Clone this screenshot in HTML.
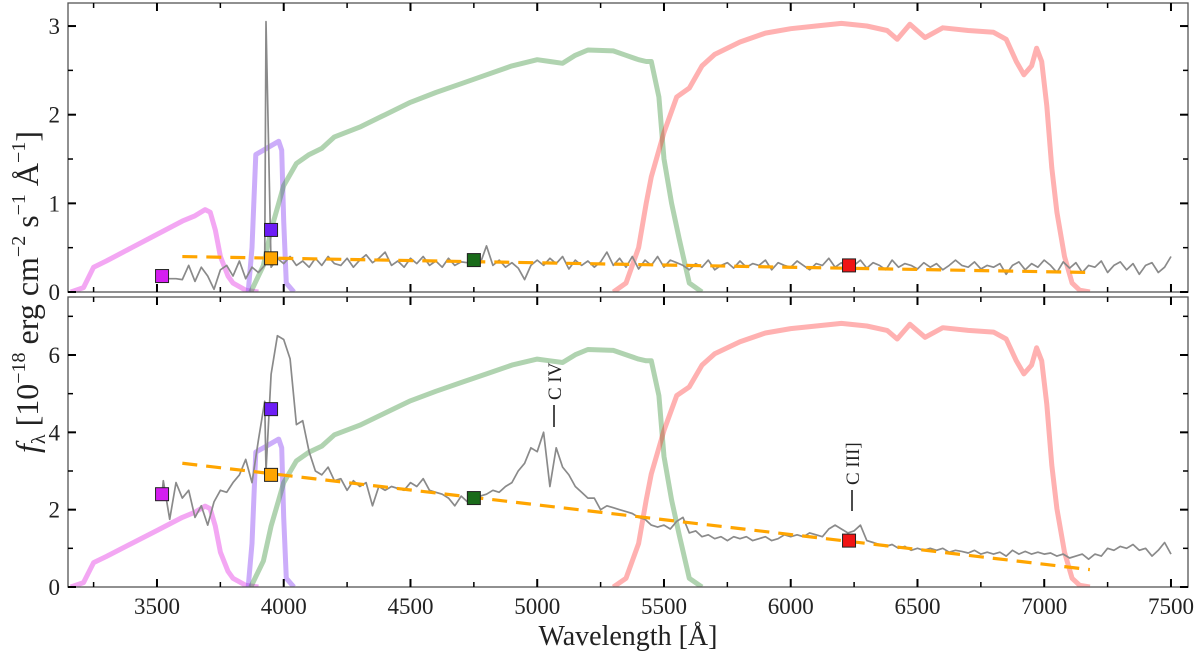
<!DOCTYPE html>
<html><head><meta charset="utf-8"><style>
html,body{margin:0;padding:0;background:#fff;}
body{position:relative;width:1200px;height:658px;overflow:hidden;}
svg{display:block;font-family:"Liberation Serif",serif;}
</style></head><body>
<svg id="chart" width="1200" height="658" viewBox="0 0 1200 658" xmlns="http://www.w3.org/2000/svg"></svg>
<script>
// ---------- data ----------
const specWave = [3525,3550,3575,3600,3625,3650,3675,3700,3725,3750,3775,3800,3825,3850,3875,3900,3925,3930,3950,3975,
4000,4025,4050,4075,4100,4125,4150,4175,4200,4225,4250,4275,4300,4325,4350,4375,4400,4425,4450,4475,
4500,4525,4550,4575,4600,4625,4650,4675,4700,4725,4750,4775,4800,4825,4850,4875,4900,4925,4950,4975,
5000,5025,5050,5075,5100,5125,5150,5175,5200,5225,5250,5275,5300,5325,5350,5375,5400,5425,5450,5475,
5500,5525,5550,5575,5600,5625,5650,5675,5700,5725,5750,5775,5800,5825,5850,5875,5900,5925,5950,5975,
6000,6025,6050,6075,6100,6125,6150,6175,6200,6225,6250,6275,6300,6325,6350,6375,6400,6425,6450,6475,
6500,6525,6550,6575,6600,6625,6650,6675,6700,6725,6750,6775,6800,6825,6850,6875,6900,6925,6950,6975,
7000,7025,7050,7075,7100,7125,7150,7175,7200,7225,7250,7275,7300,7325,7350,7375,7400,7425,7450,7475,7500];
const topFlux = [.15,.15,.15,.14,.30,.12,.28,.18,.03,.25,.30,.18,.35,.15,.28,.22,.30,3.05,.28,.38,
.32,.40,.30,.35,.28,.38,.30,.40,.32,.30,.38,.28,.36,.42,.33,.38,.45,.30,.35,.28,
.38,.32,.40,.30,.35,.28,.38,.30,.34,.33,.40,.32,.52,.30,.36,.28,.33,.27,.14,.30,
.36,.30,.38,.32,.40,.26,.36,.30,.35,.28,.34,.45,.30,.38,.28,.40,.26,.36,.30,.40,
.28,.36,.33,.30,.25,.32,.28,.36,.25,.30,.33,.27,.35,.28,.32,.30,.36,.25,.33,.30,
.28,.35,.30,.25,.32,.30,.38,.28,.33,.25,.30,.36,.27,.33,.30,.25,.36,.28,.32,.30,
.26,.33,.28,.32,.25,.30,.36,.30,.28,.34,.26,.30,.28,.32,.20,.30,.34,.25,.32,.28,
.36,.30,.22,.34,.27,.33,.22,.30,.28,.35,.22,.30,.34,.25,.32,.20,.30,.33,.22,.28,.40];
const botFlux = [2.75,1.75,2.7,2.3,2.5,1.8,2.1,1.6,2.2,2.5,2.45,2.7,2.9,3.3,2.7,3.8,4.8,3.0,5.5,6.5,
6.4,5.9,4.2,4.3,3.5,3.0,2.9,3.1,2.75,2.8,2.5,2.75,2.6,2.7,2.1,2.6,2.5,2.6,2.55,2.5,
2.7,2.6,2.8,2.5,2.45,2.4,2.3,2.1,2.35,2.2,2.3,2.35,2.4,2.5,2.45,2.6,2.7,3.0,3.2,3.6,
3.5,4.0,2.6,3.6,3.1,2.9,2.6,2.45,2.3,2.3,2.0,2.1,2.05,2.0,1.95,1.9,1.8,1.75,1.6,1.55,
1.6,1.5,1.7,1.8,1.4,1.45,1.3,1.35,1.25,1.3,1.2,1.3,1.25,1.3,1.2,1.25,1.3,1.2,1.25,1.35,
1.3,1.35,1.3,1.4,1.35,1.3,1.5,1.6,1.5,1.4,1.45,1.6,1.2,1.15,1.1,1.05,1.1,1.0,1.05,0.95,
1.0,0.95,1.0,0.95,1.0,0.9,0.95,0.92,0.88,0.95,0.85,0.9,0.85,0.9,0.8,0.95,0.85,0.92,0.85,0.9,
0.85,0.88,0.8,0.85,0.75,0.8,0.85,0.72,0.85,0.8,1.0,0.95,1.05,1.0,1.1,0.95,1.0,0.8,0.95,1.15,0.85];

// filter curves (top-panel units; bottom scaled)
const uWave = [3160,3210,3250,3300,3400,3500,3600,3650,3690,3710,3730,3750,3780,3800,3850,3900];
const uTrans = [0,0.05,0.28,0.35,0.5,0.65,0.8,0.86,0.93,0.9,0.7,0.4,0.18,0.1,0.02,0];
const hWave = [3860,3875,3890,3920,3950,3980,3992,4000,4010,4040];
const hTrans = [0,0.5,1.55,1.6,1.65,1.7,1.6,0.8,0.1,0];
const gWave = [3870,3920,3950,3980,4000,4050,4100,4150,4200,4300,4400,4500,4600,4700,4800,4900,5000,5050,5100,5150,5200,5300,5350,5400,5430,5450,5480,5500,5530,5560,5600,5650];
const gTrans = [0,0.3,0.7,1.0,1.2,1.45,1.55,1.62,1.75,1.86,2.0,2.14,2.25,2.35,2.45,2.55,2.62,2.6,2.58,2.67,2.73,2.72,2.67,2.62,2.6,2.6,2.2,1.5,1.0,0.6,0.1,0];
const rWave = [5300,5350,5400,5430,5450,5500,5550,5600,5650,5700,5800,5900,6000,6100,6200,6300,6380,6420,6470,6530,6600,6700,6800,6850,6890,6920,6950,6970,6990,7010,7030,7050,7080,7110,7140,7180];
const rTrans = [0,0.1,0.5,1.0,1.3,1.8,2.2,2.3,2.55,2.68,2.82,2.92,2.97,3.0,3.03,3.0,2.95,2.85,3.02,2.87,2.98,2.95,2.93,2.85,2.6,2.45,2.55,2.75,2.6,2.1,1.4,0.9,0.4,0.1,0.02,0];
const filterScaleBottom = 2.25;

// fitted continuum (orange dashed)
const fitWave = [3600,7180];
const fitTop = [0.40,0.22];
const fitBot = [3.2,0.45];

// photometric points
const photWave = [3520,3950,3950,4750,6230];
const photTop = [0.18,0.70,0.38,0.36,0.30];
const photBot = [2.4,4.6,2.9,2.3,1.2];
const photNames = ['u-band','h-band','continuum','g-band','r-band'];
const photColors = ['#d41ef0','#6d1ef5','#ffa500','#1a6b1a','#f01414'];

const xTicks = [3500,4000,4500,5000,5500,6000,6500,7000,7500];
const topYTicks = [0,1,2,3];
const botYTicks = [0,2,4,6];

// ---------- layout ----------
const svg = document.getElementById('chart');
const NS = 'http://www.w3.org/2000/svg';
const X0 = 68, X1 = 1188, W0 = 3149, W1 = 3149 + (1188-68)/0.2535;
const panels = [
  {name:'top-panel', y0:292, y1:3, vmax:3.26, flux:topFlux, fit:fitTop, phot:photTop, fs:1, major:topYTicks, minorStep:0.5},
  {name:'bottom-panel', y0:587, y1:297, vmax:7.5, flux:botFlux, fit:fitBot, phot:photBot, fs:filterScaleBottom, major:botYTicks, minorStep:1}
];
function xs(w){ return X0 + (w - W0) / (W1 - W0) * (X1 - X0); }
function mk(tag, attrs, parent){ const e = document.createElementNS(NS, tag); for (const k in attrs) e.setAttribute(k, attrs[k]); (parent||svg).appendChild(e); return e; }

panels.forEach(p => {
  const ys = v => p.y0 - v / p.vmax * (p.y0 - p.y1);
  const g = mk('g', {});
  
  
  const clipId = 'clip-' + p.name;
  const cp = mk('clipPath', {id: clipId}, g);
  mk('rect', {x:X0, y:p.y1, width:X1-X0, height:p.y0-p.y1}, cp);
  const plot = mk('g', {'clip-path':'url(#' + clipId + ')'}, g);

  const filters = [
    ['u-filter-curve', uWave, uTrans, '#ee82ee', 0.7],
    ['h-filter-curve', hWave, hTrans, '#9a5cf5', 0.5],
    ['g-filter-curve', gWave, gTrans, '#2f8b2f', 0.38],
    ['r-filter-curve', rWave, rTrans, '#ff2020', 0.35]
  ];
  filters.forEach(f => {
    let d = '';
    f[1].forEach((w, i) => { d += (i ? 'L' : 'M') + xs(w).toFixed(1) + ',' + ys(f[2][i] * p.fs).toFixed(1); });
    const el = mk('path', {d:d, fill:'none', stroke:f[3], 'stroke-opacity':f[4], 'stroke-width':5, 'stroke-linejoin':'round'}, plot);
    
    
  });

  let d = 'M' + xs(photWave[0]).toFixed(1) + ',' + ys(p.phot[0]).toFixed(1);
  const n = Math.min(specWave.length, p.flux.length);
  for (let i = 0; i < n; i++) d += 'L' + xs(specWave[i]).toFixed(1) + ',' + ys(p.flux[i]).toFixed(1);
  const sp = mk('path', {d:d, fill:'none', stroke:'#8a8a8a', 'stroke-width':1.7, 'stroke-linejoin':'round'}, plot);
  
  

  const fl = mk('line', {x1:xs(fitWave[0]), y1:ys(p.fit[0]), x2:xs(fitWave[1]), y2:ys(p.fit[1]), stroke:'#ffa500', 'stroke-width':3.2, 'stroke-dasharray':'15 9'}, plot);
  
  

  photWave.forEach((w, i) => {
    const r = mk('rect', {x:xs(w)-6.5, y:ys(p.phot[i])-6.5, width:13, height:13, fill:photColors[i], stroke:'#222', 'stroke-width':1}, g);
    
    
  });

  const fr = mk('rect', {x:X0, y:p.y1, width:X1-X0, height:p.y0-p.y1, fill:'none', stroke:'#555', 'stroke-width':1.3}, g);
  
  

  for (let w = 3250; w <= 7500; w += 250) {
    const maj = (w % 500 === 0), L = maj ? 8 : 5;
    mk('line', {x1:xs(w), x2:xs(w), y1:p.y0, y2:p.y0-L, stroke:'#000', 'stroke-width':maj?2:1.5}, g);
    mk('line', {x1:xs(w), x2:xs(w), y1:p.y1, y2:p.y1+L, stroke:'#000', 'stroke-width':maj?2:1.5}, g);
  }
  for (let v = 0; v <= p.vmax; v += p.minorStep) {
    const maj = p.major.indexOf(v) >= 0, L = maj ? 8 : 5;
    mk('line', {x1:X0, x2:X0+L, y1:ys(v), y2:ys(v), stroke:'#000', 'stroke-width':maj?2:1.5}, g);
    mk('line', {x1:X1, x2:X1-L, y1:ys(v), y2:ys(v), stroke:'#000', 'stroke-width':maj?2:1.5}, g);
  }
  p.major.forEach(v => {
    const t = mk('text', {x:60, y:ys(v)+8, 'text-anchor':'end', 'font-size':23, fill:'#222'}, g);
    t.textContent = v;
    
    
  });
});

xTicks.forEach(w => {
  const t = mk('text', {x:xs(w), y:614, 'text-anchor':'middle', 'font-size':23, fill:'#222'});
  t.textContent = w;
  
  
});
</script>
<svg width="1200" height="658" viewBox="0 0 1200 658" style="position:absolute;left:0;top:0;font-family:'Liberation Serif',serif" xmlns="http://www.w3.org/2000/svg">
  <text x="628" y="645" text-anchor="middle" font-size="28" fill="#222">Wavelength [Å]</text>
  <text transform="translate(38,292) rotate(-90)" text-anchor="middle" font-size="32" fill="#222"><tspan font-style="italic">f</tspan><tspan font-size="20" dy="7">λ</tspan><tspan dy="-7">  [10</tspan><tspan font-size="20" dy="-13">−18</tspan><tspan dy="13">  erg cm</tspan><tspan font-size="20" dy="-13">−2</tspan><tspan dy="13"> s</tspan><tspan font-size="20" dy="-13">−1</tspan><tspan dy="13"> Å</tspan><tspan font-size="20" dy="-13">−1</tspan><tspan dy="13">]</tspan></text>
  <g>
    <line x1="554" y1="405" x2="554" y2="427" stroke="#111" stroke-width="1.5"/>
    <text transform="translate(561,400) rotate(-90)" font-size="19" fill="#222">C IV</text>
  </g>
  <g>
    <line x1="852" y1="490" x2="852" y2="511" stroke="#111" stroke-width="1.5"/>
    <text transform="translate(859,485) rotate(-90)" font-size="19" fill="#222">C III]</text>
  </g>
</svg>
</body></html>
